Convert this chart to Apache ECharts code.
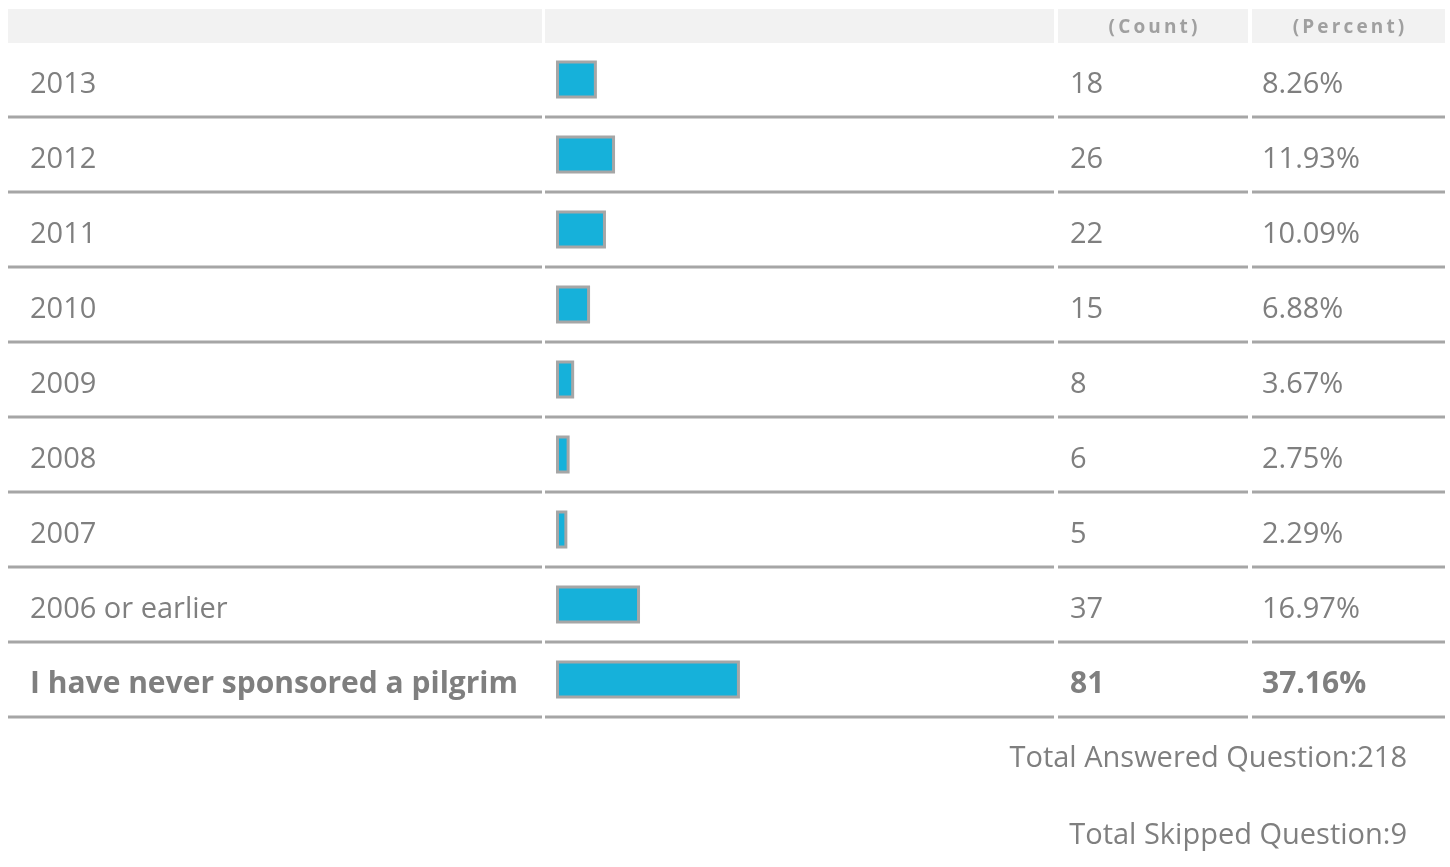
<!DOCTYPE html>
<html>
<head>
<meta charset="utf-8">
<title>Sponsored a pilgrim</title>
<script src="https://cdn.jsdelivr.net/npm/echarts@6/dist/echarts.min.js"></script>
<style>
  html, body { margin: 0; padding: 0; background: #fff; }
  #chart { width: 1450px; height: 867px; }
</style>
</head>
<body>
<div id="chart"></div>
<script>
// answers, top to bottom
var categories = ['2013', '2012', '2011', '2010', '2009', '2008', '2007', '2006 or earlier', 'I have never sponsored a pilgrim'];
var counts = [18, 26, 22, 15, 8, 6, 5, 37, 81];
var percents = ['8.26%', '11.93%', '10.09%', '6.88%', '3.67%', '2.75%', '2.29%', '16.97%', '37.16%'];
var boldRow = 8;
var headers = ['(Count)', '(Percent)'];
var totalAnswered = 218;
var totalSkipped = 9;

// table layout
var FONT = '"Open Sans", sans-serif';
var TXT = '#7f7f7f';
var LINE = '#a6a6a6';
var cols = [[8, 542], [545, 1054], [1058, 1248], [1252, 1445]];
var gridLeft = 556, gridTop = 42, gridW = 495, gridH = 675;

function spaced(s) {
  return s.split('').join('\u2009');
}

function rowLabel(fn) {
  return {
    formatter: function (v, i) {
      var t = fn(v, i);
      return i === boldRow ? '{b|' + t + '}' : '{n|' + t + '}';
    },
    rich: {
      n: { fontFamily: FONT, fontSize: 29, color: TXT, padding: [10, 0, 0, 0] },
      b: { fontFamily: FONT, fontSize: 30, fontWeight: 'bold', color: TXT, padding: [10, 0, 0, 0] }
    }
  };
}

var chart = echarts.init(document.getElementById('chart'));

var graphics = [];
cols.forEach(function (c) {
  graphics.push({
    type: 'rect', silent: true,
    shape: { x: c[0], y: 9, width: c[1] - c[0], height: 34 },
    style: { fill: '#f2f2f2' }
  });
});
graphics.push({
  type: 'text', x: (cols[2][0] + cols[2][1]) / 2, y: 28,
  style: { text: spaced(headers[0]), fontFamily: FONT, fontSize: 19, fontWeight: 'bold', fill: '#a0a0a0', align: 'center', verticalAlign: 'middle' }
});
graphics.push({
  type: 'text', x: (cols[3][0] + cols[3][1]) / 2, y: 28,
  style: { text: spaced(headers[1]), fontFamily: FONT, fontSize: 19, fontWeight: 'bold', fill: '#a0a0a0', align: 'center', verticalAlign: 'middle' }
});
graphics.push({
  type: 'text', x: 1407, y: 759,
  style: { text: 'Total Answered Question:' + totalAnswered, fontFamily: FONT, fontSize: 29, fill: TXT, align: 'right', verticalAlign: 'middle' }
});
graphics.push({
  type: 'text', x: 1407, y: 836,
  style: { text: 'Total Skipped Question:' + totalSkipped, fontFamily: FONT, fontSize: 29, fill: TXT, align: 'right', verticalAlign: 'middle' }
});

var lbl0 = rowLabel(function (v) { return v; });
lbl0.margin = gridLeft - 30;
lbl0.align = 'left';
var lbl1 = rowLabel(function (v, i) { return String(counts[i]); });
lbl1.margin = 1070 - (gridLeft + gridW);
lbl1.align = 'left';
var lbl2 = rowLabel(function (v, i) { return percents[i]; });
lbl2.margin = 1262 - (gridLeft + gridW);
lbl2.align = 'left';

var hiddenAxis = { axisLine: { show: false }, axisTick: { show: false }, splitLine: { show: false } };

chart.setOption({
  animation: false,
  backgroundColor: '#fff',
  graphic: graphics,
  grid: { left: gridLeft, top: gridTop, width: gridW, height: gridH, containLabel: false },
  xAxis: {
    type: 'value', min: 0, max: totalAnswered, show: false
  },
  yAxis: [
    Object.assign({ type: 'category', inverse: true, data: categories, position: 'left', axisLabel: lbl0 }, hiddenAxis),
    Object.assign({ type: 'category', inverse: true, data: categories, position: 'right', offset: 0, axisLabel: lbl1 }, hiddenAxis),
    Object.assign({ type: 'category', inverse: true, data: categories, position: 'right', offset: 0, axisLabel: lbl2 }, hiddenAxis)
  ],
  series: [
    {
      type: 'bar',
      data: counts,
      barWidth: 38,
      itemStyle: { color: '#16b1da', borderColor: LINE, borderWidth: 3 },
      silent: true
    },
    {
      // row separators under each answer
      type: 'custom',
      silent: true,
      data: categories.map(function (c) { return [0, c]; }),
      encode: { x: 0, y: 1 },
      renderItem: function (params, api) {
        var p = api.coord([0, api.value(1)]);
        var h = api.size([0, 1])[1];
        var yb = p[1] + h / 2;
        return {
          type: 'group',
          children: cols.map(function (c) {
            return {
              type: 'rect',
              shape: { x: c[0], y: yb - 1.5, width: c[1] - c[0], height: 3 },
              style: { fill: LINE }
            };
          })
        };
      }
    }
  ]
});
</script>
</body>
</html>
